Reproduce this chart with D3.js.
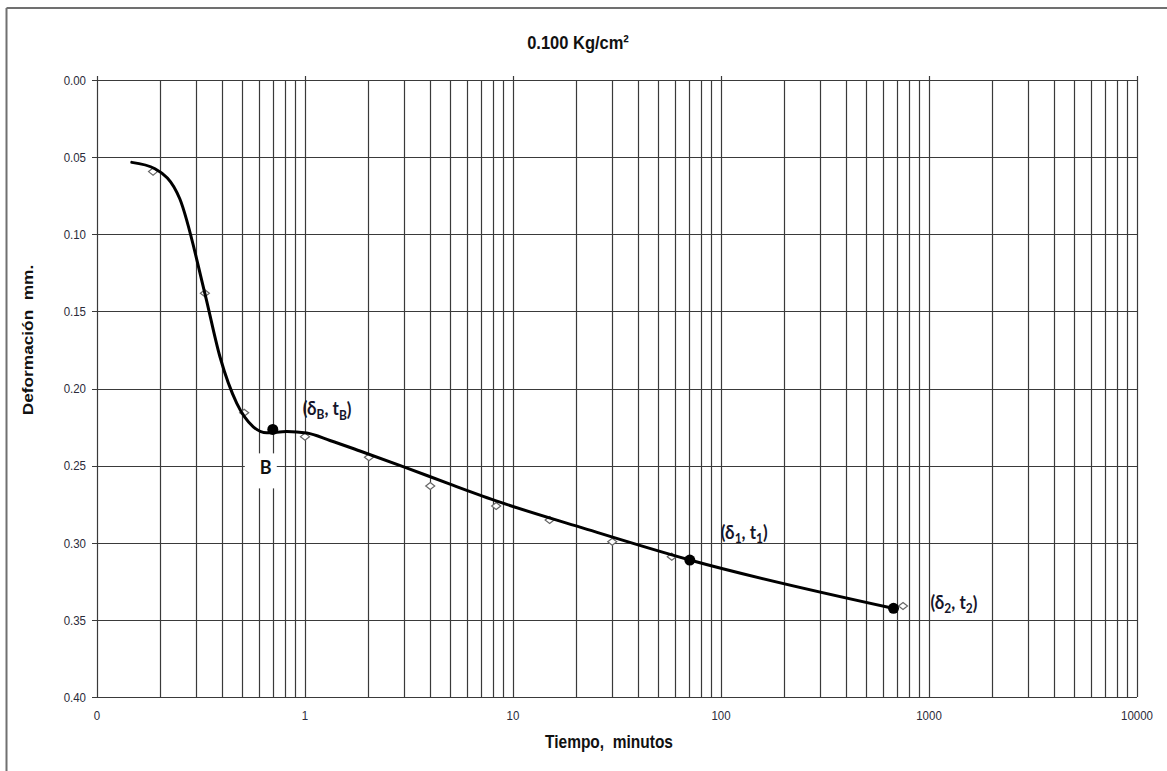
<!DOCTYPE html>
<html>
<head>
<meta charset="utf-8">
<script src="https://cdn.jsdelivr.net/npm/d3@7"></script>
<style>
  html, body { margin: 0; padding: 0; background: #fff; }
  svg { display: block; }
  text { white-space: pre; }
</style>
</head>
<body>
<svg id="chart" width="1167" height="771"></svg>
<script>
// ---------- data ----------
const title = "0.100 Kg/cm²";
const xTitle = "Tiempo,  minutos";
const yTitle = "Deformación  mm.";

// measured readings (open diamonds)
const obsTime = [0.186, 0.33, 0.51, 1.0, 2.03, 4.0, 8.3, 15.0, 30.0, 58.0, 750.0];
const obsDef  = [0.0594, 0.1383, 0.2157, 0.2312, 0.2446, 0.2632, 0.2762, 0.2853, 0.2993, 0.309, 0.341];

// fitted curve
const curveTime = [0.147, 0.19, 0.25, 0.33, 0.39, 0.47, 0.564, 0.655, 0.817, 1.02, 1.318, 1.838, 3.03, 4.98, 8.66, 21.0, 70.8, 671];
const curveDef  = [0.0534, 0.0575, 0.0770, 0.1383, 0.1794, 0.2096, 0.2248, 0.2287, 0.2279, 0.2289, 0.2337, 0.2405, 0.2511, 0.2620, 0.2737, 0.2899, 0.3112, 0.3425];

// key points
const keyTime = [0.7, 70.8, 675];
const keyDef  = [0.2265, 0.3112, 0.3425];
const keyName = ["B", "1", "2"];

// ticks
const yTicks = [0, 0.05, 0.10, 0.15, 0.20, 0.25, 0.30, 0.35, 0.40];
const xMajorTicks = [0.1, 1, 10, 100, 1000, 10000];
const xMajorLabels = ["0", "1", "10", "100", "1000", "10000"];

// ---------- drawing ----------
const svg = d3.select("#chart");
const L = 97, R = 1137, T = 80, B = 697;

const x = d3.scaleLog().domain([0.1, 10000]).range([L, R]);
const y = d3.scaleLinear().domain([0, 0.4]).range([T, B]);

const gridColor = "#3a3a3a";

// outer frame (top + left)
svg.append("line").attr("x1", 6.5).attr("x2", 1167).attr("y1", 8).attr("y2", 8)
  .attr("stroke", "#707070").attr("stroke-width", 2);
svg.append("line").attr("x1", 6.5).attr("x2", 6.5).attr("y1", 8).attr("y2", 771)
  .attr("stroke", "#707070").attr("stroke-width", 2);

// vertical grid (log minors)
const vTicks = x.ticks();
svg.append("g").selectAll("line").data(vTicks).join("line")
  .attr("x1", d => Math.round(x(d)) + 0.5).attr("x2", d => Math.round(x(d)) + 0.5)
  .attr("y1", T).attr("y2", B)
  .attr("stroke", gridColor).attr("stroke-width", 1.2);

// decade ticks above top
svg.append("g").selectAll("line").data(xMajorTicks).join("line")
  .attr("x1", d => Math.round(x(d)) + 0.5).attr("x2", d => Math.round(x(d)) + 0.5)
  .attr("y1", T - 4).attr("y2", T)
  .attr("stroke", gridColor).attr("stroke-width", 1.2);

// horizontal grid
svg.append("g").selectAll("line").data(yTicks).join("line")
  .attr("x1", L - 5).attr("x2", R)
  .attr("y1", d => Math.round(y(d)) + 0.5).attr("y2", d => Math.round(y(d)) + 0.5)
  .attr("stroke", gridColor).attr("stroke-width", 1.2);

// y tick labels
svg.append("g").selectAll("text").data(yTicks).join("text")
  .attr("transform", d => `translate(${L - 11},${y(d)}) scale(1,1.15)`)
  .attr("text-anchor", "end").attr("dy", "0.36em")
  .attr("font-family", "Liberation Sans, Arial, sans-serif").attr("font-size", 11.5)
  .attr("fill", "#2b2b3a")
  .text(d => d.toFixed(2));

// x tick labels
svg.append("g").selectAll("text").data(xMajorTicks).join("text")
  .attr("transform", d => `translate(${x(d)},${B + 18}) scale(1,1.15)`)
  .attr("text-anchor", "middle").attr("dy", "0.36em")
  .attr("font-family", "Liberation Sans, Arial, sans-serif").attr("font-size", 11.5)
  .attr("fill", "#2b2b3a")
  .text((d, i) => xMajorLabels[i]);

// titles
svg.append("text")
  .attr("transform", `translate(${578},${42}) scale(1,1.15)`)
  .attr("text-anchor", "middle").attr("dy", "0.36em")
  .attr("font-family", "Liberation Sans, Arial, sans-serif").attr("font-weight", "bold")
  .attr("font-size", 16.5).attr("fill", "#111")
  .text(title);
svg.append("text")
  .attr("transform", `translate(${609},${742}) scale(1,1.15)`)
  .attr("text-anchor", "middle").attr("dy", "0.36em")
  .attr("font-family", "Liberation Sans, Arial, sans-serif").attr("font-weight", "bold")
  .attr("font-size", 15.5).attr("fill", "#111")
  .text(xTitle);
svg.append("text")
  .attr("transform", `translate(${28},${340}) rotate(-90) scale(1.15,1)`)
  .attr("text-anchor", "middle").attr("dy", "0.36em")
  .attr("font-family", "Liberation Sans, Arial, sans-serif").attr("font-weight", "bold")
  .attr("font-size", 15).attr("fill", "#111")
  .text(yTitle);

// observed diamonds
const diamond = "M0,-3.5 L4.5,0 L0,3.5 L-4.5,0 Z";
svg.append("g").selectAll("path").data(obsTime.map((t, i) => [t, obsDef[i]])).join("path")
  .attr("d", diamond)
  .attr("transform", d => `translate(${x(d[0])},${y(d[1])})`)
  .attr("fill", "#fff").attr("stroke", "#666").attr("stroke-width", 1.2);

// curve
const line = d3.line().x(d => x(d[0])).y(d => y(d[1])).curve(d3.curveMonotoneX);
svg.append("path")
  .datum(curveTime.map((t, i) => [t, curveDef[i]]))
  .attr("d", line).attr("fill", "none").attr("stroke", "#000").attr("stroke-width", 3)
  .attr("stroke-linecap", "round").attr("stroke-linejoin", "round");

// key dots
svg.append("g").selectAll("circle").data(keyTime.map((t, i) => [t, keyDef[i]])).join("circle")
  .attr("cx", d => x(d[0])).attr("cy", d => y(d[1])).attr("r", 5.5).attr("fill", "#000");

// "B" label with white box
const bx = x(keyTime[0]), by = y(keyDef[0]);
svg.append("rect").attr("x", bx - 28).attr("y", by + 24).attr("width", 32).attr("height", 35).attr("fill", "#fff");
svg.append("text")
  .attr("transform", `translate(${bx - 7},${by + 37}) scale(1,1.1)`)
  .attr("text-anchor", "middle").attr("dy", "0.36em")
  .attr("font-family", "Lato, Open Sans, sans-serif").attr("font-weight", "bold")
  .attr("font-size", 18).attr("fill", "#111").text("B");

// key-point labels
const labelOffsets = [[30, -21], [31, -28], [37, -6]];
keyTime.forEach((t, i) => {
  const t0 = svg.append("text")
    .attr("transform", `translate(${x(t) + labelOffsets[i][0]},${y(keyDef[i]) + labelOffsets[i][1]}) scale(1,1.12)`)
    .attr("dy", "0.36em")
    .attr("font-family", "Lato, Open Sans, sans-serif").attr("font-weight", "bold")
    .attr("font-size", 17).attr("fill", "#15152a");
  t0.append("tspan").text("(δ");
  t0.append("tspan").attr("font-size", 12).attr("dy", "0.3em").text(keyName[i]);
  t0.append("tspan").attr("dy", "-0.2em").text(", t");
  t0.append("tspan").attr("font-size", 12).attr("dy", "0.3em").text(keyName[i]);
  t0.append("tspan").attr("dy", "-0.2em").text(")");
});
</script>
</body>
</html>
